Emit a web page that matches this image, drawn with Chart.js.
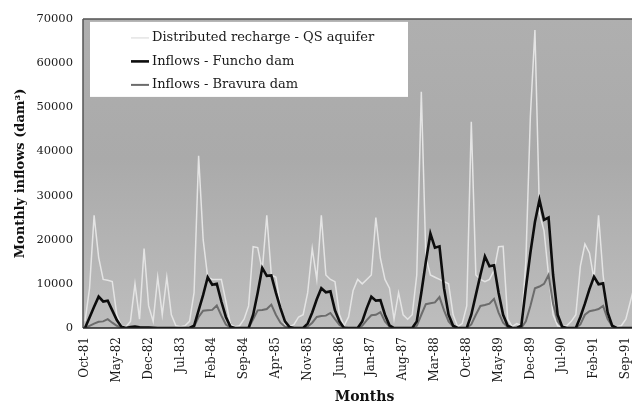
<!DOCTYPE html>
<html>
<head>
<meta charset="utf-8">
<script src="https://cdn.jsdelivr.net/npm/chart.js@4.4.0/dist/chart.umd.min.js"></script>
<style>
  html, body { margin: 0; padding: 0; background: #fff; overflow: hidden; }
  #caixa { width: 632px; height: 406px; overflow: hidden; }
</style>
</head>
<body>
<div id="caixa"><canvas id="afluencias" width="660" height="406"></canvas></div>
<script>
// monthly values, one row per hydrological year (Oct..Sep), Oct-81 .. Jan-92
const recarga = [
  1500, 9000, 25500, 16000, 11000, 10800, 10500, 3000, 500, 300, 1500, 10000,
  2000, 18000, 5000, 1500, 11500, 3000, 11500, 3000, 500, 300, 500, 1500,
  8000, 39000, 20000, 11500, 11000, 11000, 11000, 6000, 800, 300, 500, 2000,
  5000, 18400, 18200, 13000, 25500, 12000, 11500, 5000, 800, 300, 800, 2500,
  3000, 8000, 18000, 11000, 25500, 12000, 11000, 10500, 3000, 500, 2500, 8500,
  11000, 10000, 11000, 12000, 25000, 15800, 11000, 9000, 2000, 8000, 3000, 2000,
  3000, 12000, 53500, 16000, 12000, 11500, 11000, 10500, 10000, 3000, 300, 1000,
  5000, 46700, 12000, 11000, 10500, 11000, 13000, 18400, 18500, 2000, 300, 1000,
  500, 15000, 48000, 67500, 26000, 22000, 12000, 3000, 500, 300, 500, 1500,
  3000, 14000, 19000, 17000, 11000, 25500, 12000, 3000, 500, 300, 500, 2000,
  6000, 10000, 14000, 18000
]
const funcho = [
  0, 2400, 4800, 7100, 6000, 6200, 4000, 1800, 300, 0, 200, 300,
  150, 100, 100, 50, 0, 0, 0, 0, 0, 0, 0, 0,
  500, 4000, 7500, 11500, 9800, 10000, 6000, 2500, 300, 0, 0, 0,
  0, 3000, 8000, 13600, 11800, 11900, 8000, 4500, 1500, 200, 0, 0,
  0, 1000, 3500, 6500, 9000, 8100, 8300, 4000, 1500, 0, 0, 0,
  0, 1500, 4500, 7100, 6200, 6300, 3000, 600, 0, 0, 0, 0,
  0, 1500, 8000, 15000, 21400, 18200, 18500, 9000, 3000, 500, 0, 0,
  0, 3000, 7500, 12000, 16200, 14000, 14200, 8000, 3000, 500, 0, 0,
  500, 9000, 17000, 24000, 29000, 24500, 25000, 12000, 3000, 300, 0, 0,
  0, 2500, 5500, 8800, 11600, 9900, 10100, 3500, 500, 0, 0, 0,
  0, 0, 100, 500
]
const bravura = [
  0, 500, 1000, 1400, 1500, 2000, 1200, 500, 100, 0, 0, 100,
  100, 50, 50, 0, 0, 0, 0, 0, 0, 0, 0, 0,
  300, 2500, 3900, 4000, 4100, 5100, 2800, 800, 100, 0, 0, 0,
  0, 2000, 4000, 4100, 4300, 5300, 3000, 1200, 300, 0, 0, 0,
  0, 300, 1200, 2500, 2700, 2800, 3400, 2000, 700, 100, 0, 0,
  0, 500, 1800, 2900, 3000, 3600, 1500, 300, 0, 0, 0, 0,
  0, 500, 3000, 5400, 5600, 5800, 7000, 4000, 1500, 300, 0, 0,
  0, 800, 3000, 5000, 5200, 5500, 6600, 3500, 1200, 200, 0, 0,
  0, 1500, 5000, 9000, 9400, 10000, 12000, 5500, 1500, 200, 0, 0,
  0, 800, 3000, 3800, 4000, 4300, 5000, 2000, 400, 0, 0, 0,
  0, 0, 0, 200
]
const MESES = ['Jan', 'Feb', 'Mar', 'Apr', 'May', 'Jun', 'Jul', 'Aug', 'Sep', 'Oct', 'Nov', 'Dec']
const meses = []
for (let k = 0; k < funcho.length; k++) {
  meses.push(MESES[(9 + k) % 12] + '-' + (81 + Math.floor((9 + k) / 12)))
}
const PASSO = 7   // one tick label every 7 months
const FONTE = '"DejaVu Serif", serif'

// grey plot background, frame and the white legend box
const fundo = {
  id: 'fundo',
  beforeDatasetsDraw(chart) {
    const { ctx, chartArea: a } = chart
    const g = ctx.createLinearGradient(0, a.top, 0, a.bottom)
    g.addColorStop(0, '#afafaf')
    g.addColorStop(0.45, '#aaaaaa')
    g.addColorStop(1, '#bdbdbd')
    ctx.save()
    ctx.fillStyle = g
    ctx.fillRect(a.left - 2, a.top, a.right - a.left + 2, a.bottom - a.top)
    ctx.restore()
  },
  afterDatasetsDraw(chart) {
    const { ctx, chartArea: a } = chart
    ctx.save()
    ctx.strokeStyle = '#555'
    ctx.lineWidth = 1.5
    ctx.beginPath()
    ctx.moveTo(a.left - 2, a.top); ctx.lineTo(a.right, a.top)
    ctx.moveTo(a.left - 2, a.top); ctx.lineTo(a.left - 2, a.bottom)
    ctx.stroke()
    ctx.strokeStyle = '#222'
    ctx.beginPath()
    ctx.moveTo(a.left - 2, a.bottom); ctx.lineTo(a.right, a.bottom)
    ctx.stroke()

    const x0 = a.left + 5, y0 = a.top + 3
    ctx.fillStyle = '#fff'
    ctx.fillRect(x0, y0, 318, 75)
    ctx.font = '13px ' + FONTE
    ctx.textBaseline = 'middle'
    chart.data.datasets.forEach((d, k) => {
      const y = y0 + 16 + k * 23.5
      ctx.strokeStyle = d.borderColor
      ctx.lineWidth = d.borderWidth
      ctx.beginPath(); ctx.moveTo(x0 + 41, y); ctx.lineTo(x0 + 59, y); ctx.stroke()
      ctx.fillStyle = '#1a1a1a'
      ctx.fillText(d.label, x0 + 62, y)
    })
    ctx.restore()
  }
}

var ctx = document.getElementById('afluencias').getContext('2d')
var grafico = new Chart(ctx, {
  type: 'line',
  data: {
    labels: meses,
    datasets: [{
      label: 'Distributed recharge - QS aquifer',
      data: recarga,
      borderColor: '#e4e4e4',
      borderWidth: 1.5,
      order: 3
    }, {
      label: 'Inflows - Funcho dam',
      data: funcho,
      borderColor: '#0d0d0d',
      borderWidth: 2.6,
      order: 1
    }, {
      label: 'Inflows - Bravura dam',
      data: bravura,
      borderColor: '#6c6c6c',
      borderWidth: 2,
      order: 2
    }]
  },
  options: {
    responsive: false,
    animation: false,
    events: [],
    layout: { padding: { left: 0, right: 16, top: 13, bottom: 0 } },
    elements: { point: { radius: 0 }, line: { tension: 0, borderJoinStyle: 'miter' } },
    plugins: { legend: { display: false }, tooltip: { enabled: false } },
    scales: {
      x: {
        grid: { display: false, drawTicks: false },
        border: { display: false },
        afterFit(s) { s.height = 78 },
        ticks: {
          autoSkip: false,
          minRotation: 90,
          maxRotation: 90,
          padding: 9,
          color: '#1a1a1a',
          font: { family: FONTE, size: 12 },
          callback: (v, i) => (i % PASSO === 0 ? meses[i] : null)
        },
        title: {
          display: true,
          text: 'Months',
          color: '#111',
          font: { family: FONTE, size: 14, weight: 'bold' },
          padding: { top: 0, bottom: 0 }
        }
      },
      y: {
        min: 0,
        max: 70000,
        grid: { display: false, drawTicks: false },
        border: { display: false },
        afterFit(s) { s.width = 85 },
        ticks: {
          stepSize: 10000,
          padding: 12,
          color: '#1a1a1a',
          font: { family: FONTE, size: 11.5 },
          callback: v => String(v)
        },
        title: {
          display: true,
          text: 'Monthly inflows (dam³)',
          color: '#111',
          font: { family: FONTE, size: 13, weight: 'bold' },
          padding: { top: 13, bottom: 0 }
        }
      }
    }
  },
  plugins: [fundo]
})
</script>
</body>
</html>
